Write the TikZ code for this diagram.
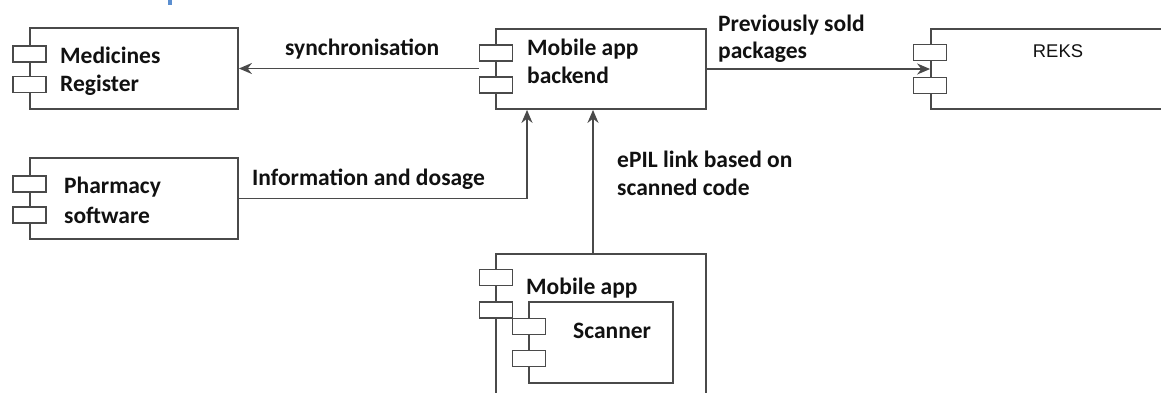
\documentclass[tikz,border=0pt]{standalone}
\usepackage{fontspec}
\setmainfont{Carlito}
\newfontfamily\arialfont{Liberation Sans}
\usetikzlibrary{arrows.meta}
\definecolor{lc}{HTML}{4A4A4A}
\definecolor{tc}{HTML}{111111}
\definecolor{hdr}{HTML}{5B8FD0}
\begin{document}
\begin{tikzpicture}[x=1pt,y=-1pt,
  comp/.style={draw=lc, line width=1.8pt, fill=white, rectangle, inner sep=0pt},
  port/.style={draw=lc, line width=1.8pt, fill=white, rectangle, inner sep=0pt,
               minimum width=33pt, minimum height=16pt},
  lbl/.style={font=\fontsize{23.5}{29}\selectfont\bfseries, text=tc, inner sep=0pt, anchor=base west},
  sanslbl/.style={font=\fontsize{18.4}{22}\selectfont\arialfont, text=tc, inner sep=0pt, anchor=base},
  conn/.style={draw=lc, line width=1.8pt, -{Stealth[length=13pt,width=11pt]}}]
\clip (0,0) rectangle (1161,392);
\fill[white] (0,0) rectangle (1161,392);

% fragment of the heading above the diagram
\fill[hdr] (168,0) rectangle (172,5);

% Medicines Register
\node[comp, minimum width=208pt, minimum height=81pt] (med) at (134,68.5) {};
\node[port] (mp1) at (29.5,54) {};
\node[port] (mp2) at (29.5,84.5) {};
\node[lbl] (medA) at (60,63) {Medicines};
\node[lbl] (medB) at (60,91) {Register};

% Mobile app backend
\node[comp, minimum width=210pt, minimum height=80pt] (back) at (601,69) {};
\node[port] (bp1) at (496,53) {};
\node[port] (bp2) at (496,85) {};
\node[lbl] (backA) at (527,55) {Mobile app};
\node[lbl] (backB) at (527,83) {backend};

% REKS
\node[comp, minimum width=244pt, minimum height=80pt] (reks) at (1053,69) {};
\node[port] (rp1) at (930,52.5) {};
\node[port] (rp2) at (930,85.5) {};
\node[sanslbl] (reksA) at (1058,57) {REKS};

% Pharmacy software
\node[comp, minimum width=208pt, minimum height=81pt] (pharm) at (134,198.5) {};
\node[port] (pp1) at (29.5,184) {};
\node[port] (pp2) at (29.5,215) {};
\node[lbl] (pharmA) at (64,193) {Pharmacy};
\node[lbl] (pharmB) at (64,223) {software};

% Mobile app with the nested Scanner
\node[comp, minimum width=210pt, minimum height=156pt] (mob) at (601,332) {};
\node[port] (mobp1) at (496,277.5) {};
\node[port] (mobp2) at (496,310) {};
\node[lbl] (mobA) at (526,294) {Mobile app};
\node[comp, minimum width=144pt, minimum height=81pt] (scan) at (601,342.5) {};
\node[port] (sp1) at (529,326.5) {};
\node[port] (sp2) at (529,358.5) {};
\node[lbl] (scanA) at (573,338) {Scanner};

% connectors
\draw[conn] (bp1.west |- med.east) -- (med.east);
\node[lbl] (syncL) at (285,55) {synchronisation};

\draw[conn] (back.east) -- (reks.west |- back.east);
\node[lbl] (prevA) at (718,31) {Previously sold};
\node[lbl] (prevB) at (718,58) {packages};

\draw[conn] (pharm.east) -| ([xshift=-74pt]back.south);
\node[lbl] (infoL) at (252,185) {Information and dosage};

\draw[conn] ([xshift=-8pt]mob.north) -- ([xshift=-8pt]back.south);
\node[lbl] (epilA) at (617,167) {ePIL link based on};
\node[lbl] (epilB) at (617,195) {scanned code};
\end{tikzpicture}
\end{document}
